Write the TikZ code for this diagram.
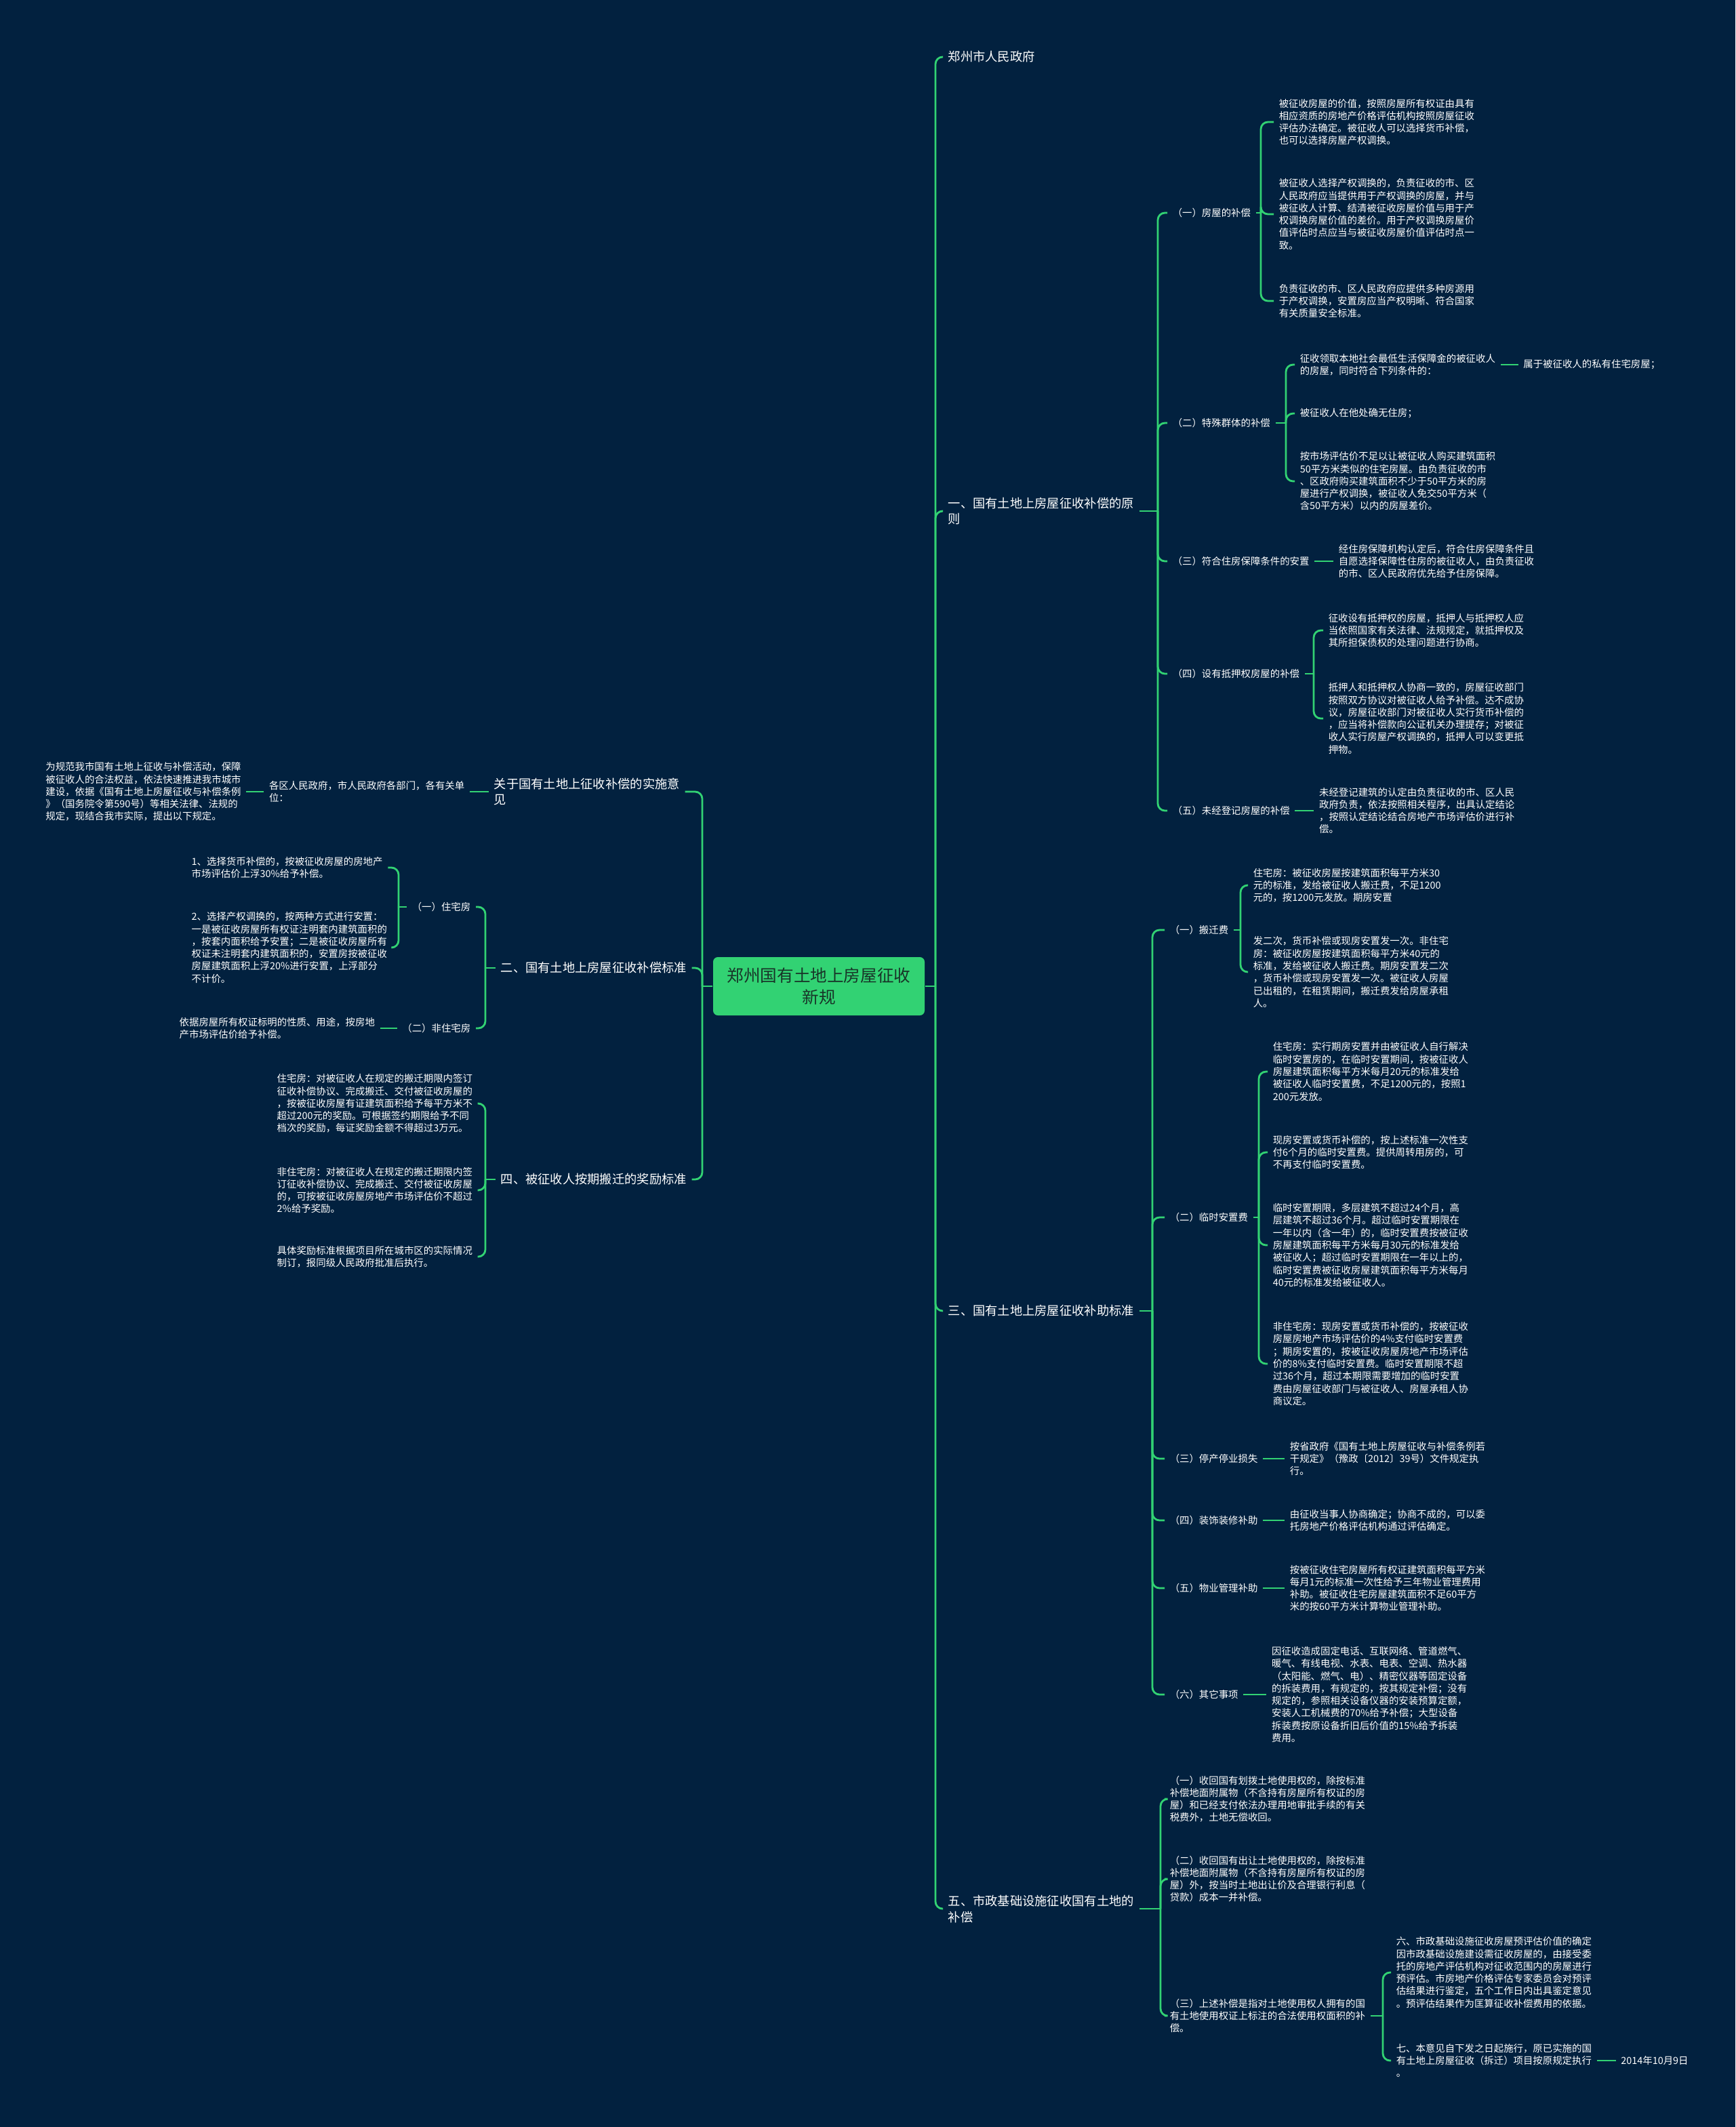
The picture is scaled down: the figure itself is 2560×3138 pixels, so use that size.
\documentclass[tikz,border=0pt]{standalone}
\usepackage{fontspec}
\setmainfont{Noto Sans CJK SC}
\usetikzlibrary{positioning}

\definecolor{bgnavy}{RGB}{2,33,63}
\definecolor{mapgreen}{RGB}{50,210,115}
\definecolor{rootink}{RGB}{24,52,40}

\begin{document}
\begin{tikzpicture}[x=0.1mm,y=-0.1mm,
  root/.style={fill=mapgreen,rounded corners=2pt,align=center,text=rootink,
               font=\fontsize{7}{9.1}\selectfont,minimum width=31.2mm,minimum height=8.6mm,inner sep=2pt},
  topic/.style={anchor=west,align=left,text=white,inner sep=2pt,font=\fontsize{5.2}{6.8}\selectfont},
  leaf/.style={anchor=west,align=left,text=white,inner sep=2pt,font=\fontsize{4.1}{5.2}\selectfont},
  link/.style={draw=mapgreen,line width=0.8pt,rounded corners=3pt}
]
\useasboundingbox (0,0) rectangle (2560,3138);
\fill[bgnavy] (0,0) rectangle (2560,3138);

% ---- centre ----
\node[root] (root) at (1208,1455) {郑州国有土地上房屋征收\\新规};
\coordinate (rt) at (1380,1455);
\coordinate (lt) at (1036,1455);
\draw[link] (root.east) -- (rt);
\draw[link] (root.west) -- (lt);

% ---- right side ----
\node[topic] (r0) at (1391,84) {郑州市人民政府};
\node[topic] (r1) at (1391,754) {一、国有土地上房屋征收补偿的原\\则};
\node[topic] (r3) at (1391,1934) {三、国有土地上房屋征收补助标准};
\node[topic] (r5) at (1391,2816) {五、市政基础设施征收国有土地的\\补偿};
\foreach \n in {r0,r1,r3,r5} \draw[link] (rt) |- (\n.west);

% ---- 一、补偿的原则 ----
\node[leaf] (a1) at (1722,314) {（一）房屋的补偿};
\node[leaf] (a2) at (1722,624) {（二）特殊群体的补偿};
\node[leaf] (a3) at (1722,828) {（三）符合住房保障条件的安置};
\node[leaf] (a4) at (1722,994) {（四）设有抵押权房屋的补偿};
\node[leaf] (a5) at (1722,1196) {（五）未经登记房屋的补偿};
\coordinate (r1b) at (1708,754);
\draw[link] (r1.east) -- (r1b);
\foreach \n in {a1,a2,a3,a4,a5} \draw[link] (r1b) |- (\n.west);

\node[leaf] (a11) at (1879,180) {被征收房屋的价值，按照房屋所有权证由具有\\相应资质的房地产价格评估机构按照房屋征收\\评估办法确定。被征收人可以选择货币补偿，\\也可以选择房屋产权调换。};
\node[leaf] (a12) at (1879,316) {被征收人选择产权调换的，负责征收的市、区\\人民政府应当提供用于产权调换的房屋，并与\\被征收人计算、结清被征收房屋价值与用于产\\权调换房屋价值的差价。用于产权调换房屋价\\值评估时点应当与被征收房屋价值评估时点一\\致。};
\node[leaf] (a13) at (1879,444) {负责征收的市、区人民政府应提供多种房源用\\于产权调换，安置房应当产权明晰、符合国家\\有关质量安全标准。};
\coordinate (a1b) at (1860,314);
\draw[link] (a1.east) -- (a1b);
\foreach \n in {a11,a12,a13} \draw[link] (a1b) |- (\n.west);

\node[leaf] (a21) at (1910,538) {征收领取本地社会最低生活保障金的被征收人\\的房屋，同时符合下列条件的：};
\node[leaf,right=2.6mm of a21] (a21x) {属于被征收人的私有住宅房屋；};
\node[leaf] (a22) at (1910,610) {被征收人在他处确无住房；};
\node[leaf] (a23) at (1910,710) {按市场评估价不足以让被征收人购买建筑面积\\50平方米类似的住宅房屋。由负责征收的市\\、区政府购买建筑面积不少于50平方米的房\\屋进行产权调换，被征收人免交50平方米（\\含50平方米）以内的房屋差价。};
\coordinate (a2b) at (1897,624);
\draw[link] (a2.east) -- (a2b);
\foreach \n in {a21,a22,a23} \draw[link] (a2b) |- (\n.west);
\draw[link] (a21) -- (a21x);

\node[leaf,right=2.8mm of a3] (a31) {经住房保障机构认定后，符合住房保障条件且\\自愿选择保障性住房的被征收人，由负责征收\\的市、区人民政府优先给予住房保障。};
\draw[link] (a3) -- (a31);

\node[leaf] (a41) at (1952,930) {征收设有抵押权的房屋，抵押人与抵押权人应\\当依照国家有关法律、法规规定，就抵押权及\\其所担保债权的处理问题进行协商。};
\node[leaf] (a42) at (1952,1060) {抵押人和抵押权人协商一致的，房屋征收部门\\按照双方协议对被征收人给予补偿。达不成协\\议，房屋征收部门对被征收人实行货币补偿的\\，应当将补偿款向公证机关办理提存；对被征\\收人实行房屋产权调换的，抵押人可以变更抵\\押物。};
\coordinate (a4b) at (1938,994);
\draw[link] (a4.east) -- (a4b);
\foreach \n in {a41,a42} \draw[link] (a4b) |- (\n.west);

\node[leaf,right=2.8mm of a5] (a51) {未经登记建筑的认定由负责征收的市、区人民\\政府负责，依法按照相关程序，出具认定结论\\，按照认定结论结合房地产市场评估价进行补\\偿。};
\draw[link] (a5) -- (a51);

% ---- 三、补助标准 ----
\node[leaf] (b1) at (1718,1372) {（一）搬迁费};
\node[leaf] (b2) at (1718,1796) {（二）临时安置费};
\node[leaf] (b3) at (1718,2152) {（三）停产停业损失};
\node[leaf] (b4) at (1718,2243) {（四）装饰装修补助};
\node[leaf] (b5) at (1718,2343) {（五）物业管理补助};
\node[leaf] (b6) at (1718,2500) {（六）其它事项};
\coordinate (r3b) at (1700,1934);
\draw[link] (r3.east) -- (r3b);
\foreach \n in {b1,b2,b3,b4,b5,b6} \draw[link] (r3b) |- (\n.west);

\node[leaf] (b11) at (1841,1306) {住宅房：被征收房屋按建筑面积每平方米30\\元的标准，发给被征收人搬迁费，不足1200\\元的，按1200元发放。期房安置};
\node[leaf] (b12) at (1841,1434) {发二次，货币补偿或现房安置发一次。非住宅\\房：被征收房屋按建筑面积每平方米40元的\\标准，发给被征收人搬迁费。期房安置发二次\\，货币补偿或现房安置发一次。被征收人房屋\\已出租的，在租赁期间，搬迁费发给房屋承租\\人。};
\coordinate (b1b) at (1830,1372);
\draw[link] (b1.east) -- (b1b);
\foreach \n in {b11,b12} \draw[link] (b1b) |- (\n.west);

\node[leaf] (b21) at (1870,1581) {住宅房：实行期房安置并由被征收人自行解决\\临时安置房的，在临时安置期间，按被征收人\\房屋建筑面积每平方米每月20元的标准发给\\被征收人临时安置费，不足1200元的，按照1\\200元发放。};
\node[leaf] (b22) at (1870,1700) {现房安置或货币补偿的，按上述标准一次性支\\付6个月的临时安置费。提供周转用房的，可\\不再支付临时安置费。};
\node[leaf] (b23) at (1870,1837) {临时安置期限，多层建筑不超过24个月，高\\层建筑不超过36个月。超过临时安置期限在\\一年以内（含一年）的，临时安置费按被征收\\房屋建筑面积每平方米每月30元的标准发给\\被征收人；超过临时安置期限在一年以上的，\\临时安置费被征收房屋建筑面积每平方米每月\\40元的标准发给被征收人。};
\node[leaf] (b24) at (1870,2012) {非住宅房：现房安置或货币补偿的，按被征收\\房屋房地产市场评估价的4\%支付临时安置费\\；期房安置的，按被征收房屋房地产市场评估\\价的8\%支付临时安置费。临时安置期限不超\\过36个月，超过本期限需要增加的临时安置\\费由房屋征收部门与被征收人、房屋承租人协\\商议定。};
\coordinate (b2b) at (1857,1796);
\draw[link] (b2.east) -- (b2b);
\foreach \n in {b21,b22,b23,b24} \draw[link] (b2b) |- (\n.west);

\node[leaf,right=3.2mm of b3] (b31) {按省政府《国有土地上房屋征收与补偿条例若\\干规定》（豫政〔2012〕39号）文件规定执\\行。};
\node[leaf,right=3.2mm of b4] (b41) {由征收当事人协商确定；协商不成的，可以委\\托房地产价格评估机构通过评估确定。};
\node[leaf,right=3.2mm of b5] (b51) {按被征收住宅房屋所有权证建筑面积每平方米\\每月1元的标准一次性给予三年物业管理费用\\补助。被征收住宅房屋建筑面积不足60平方\\米的按60平方米计算物业管理补助。};
\node[leaf,right=3.4mm of b6] (b61) {因征收造成固定电话、互联网络、管道燃气、\\暖气、有线电视、水表、电表、空调、热水器\\（太阳能、燃气、电）、精密仪器等固定设备\\的拆装费用，有规定的，按其规定补偿；没有\\规定的，参照相关设备仪器的安装预算定额，\\安装人工机械费的70\%给予补偿；大型设备\\拆装费按原设备折旧后价值的15\%给予拆装\\费用。};
\draw[link] (b3) -- (b31);
\draw[link] (b4) -- (b41);
\draw[link] (b5) -- (b51);
\draw[link] (b6) -- (b61);

% ---- 五、市政基础设施 ----
\node[leaf] (c1) at (1718,2654) {（一）收回国有划拨土地使用权的，除按标准\\补偿地面附属物（不含持有房屋所有权证的房\\屋）和已经支付依法办理用地审批手续的有关\\税费外，土地无偿收回。};
\node[leaf] (c2) at (1718,2772) {（二）收回国有出让土地使用权的，除按标准\\补偿地面附属物（不含持有房屋所有权证的房\\屋）外，按当时土地出让价及合理银行利息（\\贷款）成本一并补偿。};
\node[leaf] (c3) at (1718,2974) {（三）上述补偿是指对土地使用权人拥有的国\\有土地使用权证上标注的合法使用权面积的补\\偿。};
\coordinate (r5b) at (1712,2816);
\draw[link] (r5.east) -- (r5b);
\foreach \n in {c1,c2,c3} \draw[link] (r5b) |- (\n.west);

\node[leaf] (d1) at (2052,2910) {六、市政基础设施征收房屋预评估价值的确定\\因市政基础设施建设需征收房屋的，由接受委\\托的房地产评估机构对征收范围内的房屋进行\\预评估。市房地产价格评估专家委员会对预评\\估结果进行鉴定，五个工作日内出具鉴定意见\\。预评估结果作为匡算征收补偿费用的依据。};
\node[leaf] (d2) at (2052,3040) {七、本意见自下发之日起施行，原已实施的国\\有土地上房屋征收（拆迁）项目按原规定执行\\。};
\node[leaf,right=2.8mm of d2] (d2x) {2014年10月9日};
\coordinate (c3b) at (2040,2974);
\draw[link] (c3.east) -- (c3b);
\foreach \n in {d1,d2} \draw[link] (c3b) |- (\n.west);
\draw[link] (d2) -- (d2x);

% ---- left side ----
\node[topic] (la) at (721,1168) {关于国有土地上征收补偿的实施意\\见};
\node[topic] (lb) at (731,1428) {二、国有土地上房屋征收补偿标准};
\node[topic] (lc) at (731,1740) {四、被征收人按期搬迁的奖励标准};
\foreach \n in {la,lb,lc} \draw[link] (lt) |- (\n.east);

\node[leaf,left=2.8mm of la] (la1) {各区人民政府，市人民政府各部门，各有关单\\位：};
\node[leaf,left=2.6mm of la1] (la2) {为规范我市国有土地上征收与补偿活动，保障\\被征收人的合法权益，依法快速推进我市城市\\建设，依据《国有土地上房屋征收与补偿条例\\》（国务院令第590号）等相关法律、法规的\\规定，现结合我市实际，提出以下规定。};
\draw[link] (la) -- (la1);
\draw[link] (la1) -- (la2);

% ---- 二、补偿标准 ----
\node[leaf,anchor=east] (lb1) at (702,1338) {（一）住宅房};
\node[leaf,anchor=east] (lb2) at (702,1517) {（二）非住宅房};
\coordinate (lbb) at (716,1428);
\draw[link] (lb.west) -- (lbb);
\foreach \n in {lb1,lb2} \draw[link] (lbb) |- (\n.east);

\node[leaf] (lb11) at (275,1280) {1、选择货币补偿的，按被征收房屋的房地产\\市场评估价上浮30\%给予补偿。};
\node[leaf] (lb12) at (275,1398) {2、选择产权调换的，按两种方式进行安置：\\一是被征收房屋所有权证注明套内建筑面积的\\，按套内面积给予安置；二是被征收房屋所有\\权证未注明套内建筑面积的，安置房按被征收\\房屋建筑面积上浮20\%进行安置，上浮部分\\不计价。};
\coordinate (lb1b) at (588,1338);
\draw[link] (lb1.west) -- (lb1b);
\foreach \n in {lb11,lb12} \draw[link] (lb1b) |- (\n.east);

\node[leaf,left=2.5mm of lb2] (lb21) {依据房屋所有权证标明的性质、用途，按房地\\产市场评估价给予补偿。};
\draw[link] (lb2) -- (lb21);

% ---- 四、奖励标准 ----
\node[leaf] (lc1) at (401,1628) {住宅房：对被征收人在规定的搬迁期限内签订\\征收补偿协议、完成搬迁、交付被征收房屋的\\，按被征收房屋有证建筑面积给予每平方米不\\超过200元的奖励。可根据签约期限给予不同\\档次的奖励，每证奖励金额不得超过3万元。};
\node[leaf] (lc2) at (401,1756) {非住宅房：对被征收人在规定的搬迁期限内签\\订征收补偿协议、完成搬迁、交付被征收房屋\\的，可按被征收房屋房地产市场评估价不超过\\2\%给予奖励。};
\node[leaf] (lc3) at (401,1854) {具体奖励标准根据项目所在城市区的实际情况\\制订，报同级人民政府批准后执行。};
\coordinate (lcb) at (716,1740);
\draw[link] (lc.west) -- (lcb);
\foreach \n in {lc1,lc2,lc3} \draw[link] (lcb) |- (\n.east);

\end{tikzpicture}
\end{document}
